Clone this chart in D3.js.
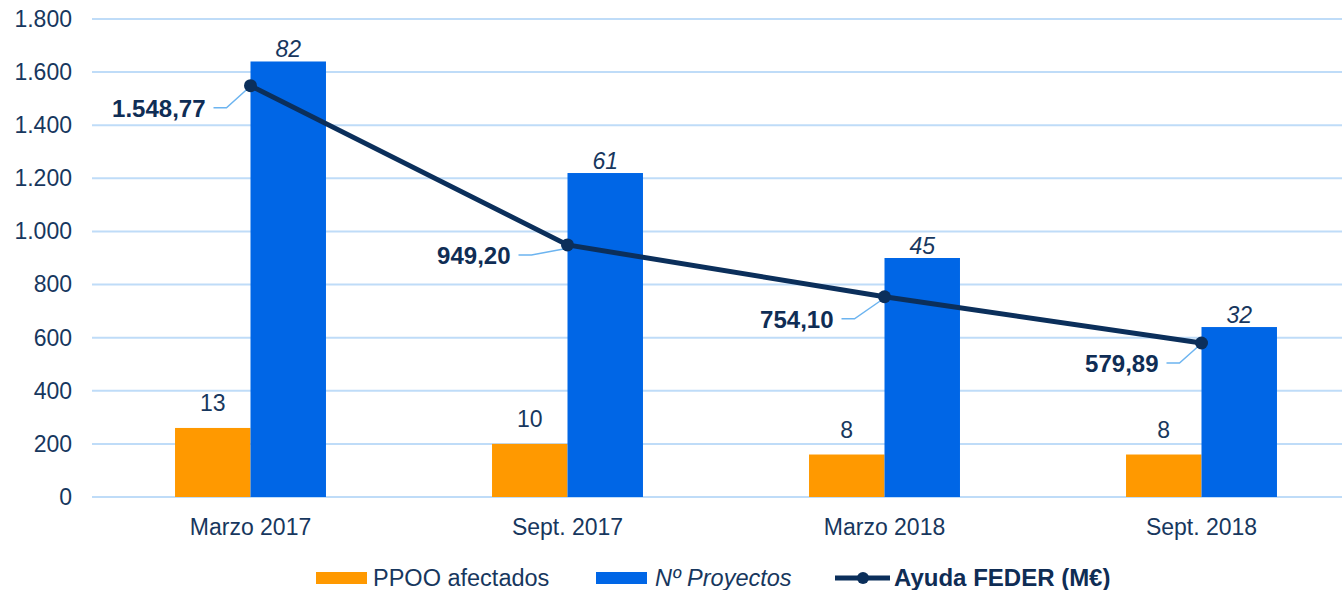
<!DOCTYPE html>
<html>
<head>
<meta charset="utf-8">
<script src="https://cdn.jsdelivr.net/npm/d3@7"></script>
<style>
  body { margin: 0; background: #fff; }
  text { font-family: "Liberation Sans", Arial, sans-serif; }
</style>
</head>
<body>
<div id="vis"></div>
<script>
// Datos
const categorias = ["Marzo 2017", "Sept. 2017", "Marzo 2018", "Sept. 2018"];
const ppoo = [13, 10, 8, 8];
const proyectos = [82, 61, 45, 32];
const ayuda = [1548.77, 949.20, 754.10, 579.89];
const ticksY = [0, 200, 400, 600, 800, 1000, 1200, 1400, 1600, 1800];

// las barras se dibujan en el mismo eje multiplicadas por 20
const ESCALA_BARRAS = 20;

// posición de las etiquetas de la línea respecto al punto (dx fin texto, dy línea base)
const labelOffsets = [[-45, 31], [-57, 19], [-51, 31], [-43, 29]];

const WIDTH = 1342;
const HEIGHT = 590;
const TEXTO = "#17375E";
const NARANJA = "#FF9900";
const AZUL = "#0066E6";
const LINEA = "#0B2F5B";
const GRID = "#BFDCF8";

const SVG = d3.select("#vis").append("svg")
  .attr("width", WIDTH)
  .attr("height", HEIGHT);

const locale = d3.formatLocale({ decimal: ",", thousands: ".", grouping: [3], currency: ["", "€"] });
const fmtEje = locale.format(",d");
const fmtLinea = locale.format(",.2f");

const x = d3.scaleBand().domain(categorias).range([92, 1360]);
const x1 = d3.scaleBand().domain(["ppoo", "proy"]).range([0, x.bandwidth()]).paddingOuter(1.1);
const y = d3.scaleLinear().domain([0, 1800]).range([497, 19]);

// lineas de la grilla
SVG.append("g").selectAll("line")
  .data(ticksY)
  .join("line")
  .attr("x1", 92)
  .attr("x2", WIDTH)
  .attr("y1", d => y(d))
  .attr("y2", d => y(d))
  .attr("stroke", GRID)
  .attr("stroke-width", 2);

// eje Y
const ejeY = SVG.append("g")
  .attr("transform", "translate(92,0)")
  .call(d3.axisLeft(y).tickValues(ticksY).tickFormat(fmtEje).tickSize(0).tickPadding(20));
ejeY.select(".domain").remove();
ejeY.selectAll("text")
  .attr("font-size", 23)
  .attr("fill", TEXTO)
  .attr("font-family", "Liberation Sans, Arial, sans-serif");

// eje X
const ejeX = SVG.append("g")
  .attr("transform", "translate(0,497)")
  .call(d3.axisBottom(x).tickSize(0).tickPadding(22));
ejeX.select(".domain").remove();
ejeX.selectAll("text")
  .attr("font-size", 23)
  .attr("fill", TEXTO)
  .attr("font-family", "Liberation Sans, Arial, sans-serif");

// barras PPOO
const filas = categorias.map((c, i) => ({ cat: c, ppoo: ppoo[i], proy: proyectos[i], ayuda: ayuda[i], i: i }));

SVG.append("g").selectAll("rect")
  .data(filas)
  .join("rect")
  .attr("x", d => x(d.cat) + x1("ppoo"))
  .attr("y", d => y(d.ppoo * ESCALA_BARRAS))
  .attr("width", x1.bandwidth())
  .attr("height", d => y(0) - y(d.ppoo * ESCALA_BARRAS))
  .attr("fill", NARANJA);

// barras proyectos
SVG.append("g").selectAll("rect")
  .data(filas)
  .join("rect")
  .attr("x", d => x(d.cat) + x1("proy"))
  .attr("y", d => y(d.proy * ESCALA_BARRAS))
  .attr("width", x1.bandwidth())
  .attr("height", d => y(0) - y(d.proy * ESCALA_BARRAS))
  .attr("fill", AZUL);

// etiquetas de las barras
SVG.append("g").selectAll("text")
  .data(filas)
  .join("text")
  .attr("x", d => x(d.cat) + x1("ppoo") + x1.bandwidth() / 2)
  .attr("y", d => y(d.ppoo * ESCALA_BARRAS) - 17)
  .attr("text-anchor", "middle")
  .attr("font-size", 23)
  .attr("fill", TEXTO)
  .text(d => d.ppoo);

SVG.append("g").selectAll("text")
  .data(filas)
  .join("text")
  .attr("x", d => x(d.cat) + x1("proy") + x1.bandwidth() / 2)
  .attr("y", d => y(d.proy * ESCALA_BARRAS) - 4)
  .attr("text-anchor", "middle")
  .attr("font-size", 23)
  .attr("font-style", "italic")
  .attr("fill", TEXTO)
  .text(d => d.proy);

// linea Ayuda FEDER
const px = d => x(d.cat) + x.bandwidth() / 2;
const linea = d3.line().x(px).y(d => y(d.ayuda));

SVG.append("path")
  .datum(filas)
  .attr("d", linea)
  .attr("fill", "none")
  .attr("stroke", LINEA)
  .attr("stroke-width", 5);

// lineas guía de las etiquetas
SVG.append("g").selectAll("path")
  .data(filas)
  .join("path")
  .attr("d", d => {
    const [dx, dy] = labelOffsets[d.i];
    const x0 = px(d) + dx + 8;
    const y0 = y(d.ayuda) + dy - 9;
    return `M${x0},${y0}H${x0 + 13}L${px(d) - 4},${y(d.ayuda) + 4}`;
  })
  .attr("fill", "none")
  .attr("stroke", "#6CB4F0")
  .attr("stroke-width", 1.5);

SVG.append("g").selectAll("circle")
  .data(filas)
  .join("circle")
  .attr("cx", px)
  .attr("cy", d => y(d.ayuda))
  .attr("r", 6.5)
  .attr("fill", LINEA);

SVG.append("g").selectAll("text")
  .data(filas)
  .join("text")
  .attr("x", d => px(d) + labelOffsets[d.i][0])
  .attr("y", d => y(d.ayuda) + labelOffsets[d.i][1])
  .attr("text-anchor", "end")
  .attr("font-size", 24)
  .attr("font-weight", "bold")
  .attr("fill", "#0F2D55")
  .text(d => fmtLinea(d.ayuda));

// leyenda
const leyenda = SVG.append("g");
leyenda.append("rect").attr("x", 316).attr("y", 572).attr("width", 51).attr("height", 12).attr("fill", NARANJA);
leyenda.append("text").attr("x", 373).attr("y", 586).attr("font-size", 23.5).attr("fill", TEXTO).text("PPOO afectados");
leyenda.append("rect").attr("x", 596).attr("y", 572).attr("width", 51).attr("height", 12).attr("fill", AZUL);
leyenda.append("text").attr("x", 655).attr("y", 586).attr("font-size", 23.5).attr("font-style", "italic").attr("fill", TEXTO).text("Nº Proyectos");
leyenda.append("line").attr("x1", 835).attr("x2", 890).attr("y1", 578).attr("y2", 578).attr("stroke", LINEA).attr("stroke-width", 5);
leyenda.append("circle").attr("cx", 863).attr("cy", 578).attr("r", 6).attr("fill", LINEA);
leyenda.append("text").attr("x", 894).attr("y", 586).attr("font-size", 24).attr("font-weight", "bold").attr("fill", "#0F2D55").text("Ayuda FEDER (M€)");
</script>
</body>
</html>
